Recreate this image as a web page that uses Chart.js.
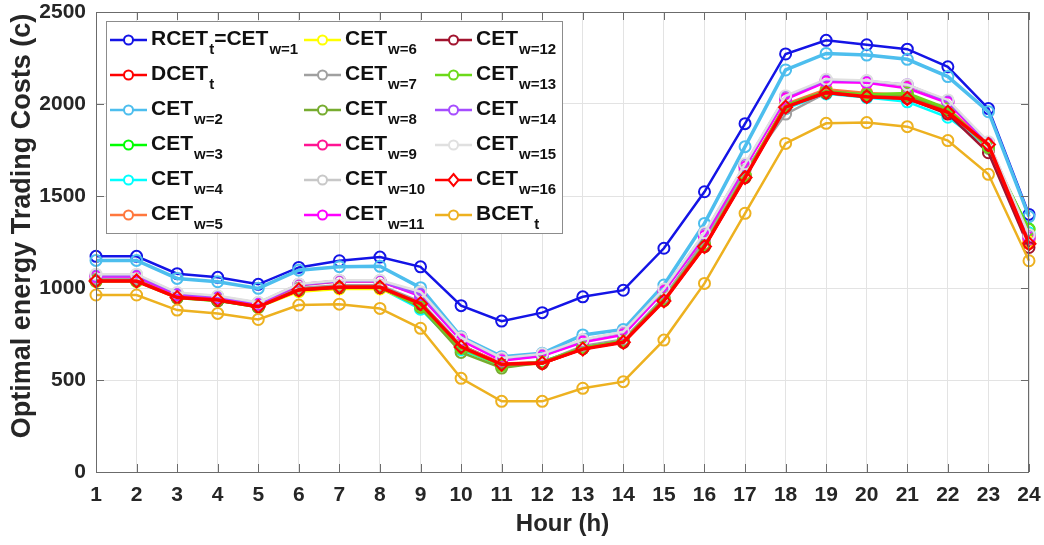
<!DOCTYPE html>
<html>
<head>
<meta charset="utf-8">
<script src="https://cdn.jsdelivr.net/npm/chart.js@4/dist/chart.umd.min.js"></script>
<style>
  body { margin: 0; background: #fff; }
  #chart { display: block; }
</style>
</head>
<body>
<canvas id="chart" width="1044" height="545"></canvas>
<script>
// hours on the x axis
const hours = ["1","2","3","4","5","6","7","8","9","10","11","12","13","14","15","16","17","18","19","20","21","22","23","24"];
const yTicks = [0, 500, 1000, 1500, 2000, 2500];

// legend names, _{...} is a subscript
const seriesNames = [
  "RCET_{t}=CET_{w=1}", "DCET_{t}", "CET_{w=2}", "CET_{w=3}", "CET_{w=4}", "CET_{w=5}",
  "CET_{w=6}", "CET_{w=7}", "CET_{w=8}", "CET_{w=9}", "CET_{w=10}", "CET_{w=11}",
  "CET_{w=12}", "CET_{w=13}", "CET_{w=14}", "CET_{w=15}", "CET_{w=16}", "BCET_{t}"
];

// values
const rcet = [1172,1172,1078,1058,1020,1112,1148,1168,1115,904,820,866,952,988,1216,1523,1893,2272,2346,2322,2298,2202,1975,1400];
const dcet = [1040,1040,950,935,902,993,1007,1007,917,685,587,591,672,708,935,1228,1605,1986,2067,2043,2036,1958,1777,1243];
const cetW2 = [1150,1150,1052,1034,998,1097,1116,1118,1002,735,627,645,745,775,1016,1351,1768,2185,2275,2266,2243,2149,1958,1388];
const cetW3 = [1040,1040,948,932,898,988,1004,1004,895,668,578,600,675,712,940,1232,1610,1990,2062,2050,2055,1970,1760,1320];
const cetW4 = [1036,1036,945,930,895,985,1000,1000,885,665,580,598,678,715,945,1240,1612,1975,2055,2035,2012,1928,1765,1300];
const cetW5 = [1042,1042,952,938,905,995,1008,1008,920,690,590,596,680,715,945,1240,1620,2000,2080,2060,2050,1975,1785,1260];
const cetW6 = [1035,1035,945,930,895,980,995,995,905,675,580,590,670,705,930,1225,1600,1990,2070,2045,2045,1965,1770,1250];
const cetW7 = [1050,1050,958,942,908,1000,1015,1015,925,690,585,595,685,720,950,1260,1640,1945,2060,2050,2040,1960,1760,1270];
const cetW8 = [1040,1040,948,930,895,990,1005,1005,895,650,565,595,675,712,938,1232,1612,1995,2070,2050,2045,1968,1765,1290];
const cetW9 = [1065,1065,965,950,915,1015,1035,1035,960,720,610,632,710,750,985,1285,1660,2030,2125,2120,2095,2010,1790,1275];
const cetW10 = [1072,1072,972,955,920,1020,1040,1040,975,725,612,635,715,755,990,1290,1665,2040,2128,2118,2100,2018,1785,1280];
const cetW11 = [1062,1062,962,948,912,1020,1040,1038,955,715,605,630,705,745,980,1280,1655,2025,2120,2115,2085,2005,1785,1270];
const cetW12 = [1038,1038,948,932,898,988,1002,1002,910,680,585,590,670,705,932,1225,1600,1985,2060,2040,2030,1945,1735,1220];
const cetW13 = [1040,1040,950,935,900,992,1006,1006,900,672,580,598,676,712,940,1235,1612,1990,2065,2052,2060,1975,1765,1318];
const cetW14 = [1068,1068,968,952,918,1018,1038,1038,965,728,618,640,718,760,992,1295,1670,2040,2130,2125,2105,2015,1790,1285];
const cetW15 = [1075,1075,975,958,922,1022,1042,1042,980,730,620,642,720,762,995,1300,1675,2045,2135,2128,2105,2022,1795,1290];
const cetW16 = [1038,1038,948,935,898,990,1005,1005,915,680,585,592,668,705,930,1225,1600,1983,2063,2040,2030,1955,1780,1240];
const bcet = [962,962,880,862,829,907,912,889,781,509,384,384,455,491,717,1025,1406,1786,1895,1899,1877,1801,1618,1148];

const allSeries = [rcet, dcet, cetW2, cetW3, cetW4, cetW5, cetW6, cetW7, cetW8, cetW9,
  cetW10, cetW11, cetW12, cetW13, cetW14, cetW15, cetW16, bcet];

const colors = ["#1414E6", "#FF0000", "#4DBEEE", "#00FF00", "#00FFFF", "#FF773D",
  "#FFFF00", "#A0A0A0", "#77AC30", "#FF1493", "#C8C8C8", "#FF00FF",
  "#A2142F", "#6CD91A", "#A64DFF", "#E0E0E0", "#FF0000", "#EDB120"];
const lineWidths = [2.5, 3.5, 3.5, 2.5, 2.5, 2.5, 2.5, 2.5, 2.5, 2.5, 2.5, 2.5, 2.5, 2.5, 2.5, 2.5, 3.5, 2.5];

const FONT = "'Liberation Sans', Arial, sans-serif";
const textColor = "#262626";
const axisColor = "#6b6b6b";

const datasets = allSeries.map((data, i) => ({
  label: seriesNames[i].replace(/_\{([^}]*)\}/g, "$1"),
  data: data,
  borderColor: colors[i],
  borderWidth: lineWidths[i],
  pointBorderColor: colors[i],
  pointBackgroundColor: "rgba(0,0,0,0)",
  pointBorderWidth: 2,
  pointRadius: i === 16 ? 6.5 : 5.5,
  pointStyle: i === 16 ? "rectRot" : "circle",
  tension: 0,
  order: allSeries.length - i,
}));

// box around the axes with inward tick marks, and the two axis titles
const frame = {
  id: "frame",
  afterDatasetsDraw(chart) {
    const c = chart.ctx;
    const a = chart.chartArea;
    const xs = chart.scales.x;
    const ys = chart.scales.y;
    c.save();
    c.strokeStyle = axisColor;
    c.lineWidth = 1;
    c.strokeRect(a.left + 0.5, a.top + 0.5, a.right - a.left - 1, a.bottom - a.top);
    c.beginPath();
    hours.forEach((h, i) => {
      const x = Math.round(xs.getPixelForValue(i)) + 0.5;
      c.moveTo(x, a.bottom); c.lineTo(x, a.bottom - 8);
      c.moveTo(x, a.top); c.lineTo(x, a.top + 8);
    });
    yTicks.forEach((v) => {
      const y = Math.round(ys.getPixelForValue(v)) + 0.5;
      c.moveTo(a.left, y); c.lineTo(a.left + 8, y);
      c.moveTo(a.right, y); c.lineTo(a.right - 8, y);
    });
    c.stroke();

    c.fillStyle = textColor;
    c.textAlign = "center";
    c.textBaseline = "middle";
    c.font = "bold 24px " + FONT;
    c.fillText("Hour (h)", (a.left + a.right) / 2, 524);
    c.translate(23, 226);
    c.rotate(-Math.PI / 2);
    c.font = "bold 27px " + FONT;
    c.fillText("Optimal energy Trading Costs (c)", 0, 0);
    c.restore();
  },
};

// legend with subscripts, three columns of six
const boxLegend = {
  id: "boxLegend",
  afterDraw(chart) {
    const c = chart.ctx;
    const colX = [110, 304, 435];
    c.save();
    c.fillStyle = "#fff";
    c.fillRect(106, 21, 456, 212);
    c.strokeStyle = "#8c8c8c";
    c.lineWidth = 1;
    c.strokeRect(106.5, 21.5, 456, 212);
    chart.data.datasets.forEach((ds, i) => {
      const x0 = colX[Math.floor(i / 6)];
      const y = 40 + (i % 6) * 35;
      c.strokeStyle = colors[i];
      c.lineWidth = 2.5;
      c.beginPath();
      c.moveTo(x0, y); c.lineTo(x0 + 37, y);
      c.stroke();
      const mx = x0 + 18.5;
      c.lineWidth = 2;
      c.beginPath();
      if (i === 16) {
        c.moveTo(mx, y - 6); c.lineTo(mx + 5, y); c.lineTo(mx, y + 6); c.lineTo(mx - 5, y); c.closePath();
      } else {
        c.arc(mx, y, 4.5, 0, Math.PI * 2);
      }
      c.fillStyle = "#fff";
      c.fill();
      c.stroke();

      // text parts, odd parts are subscripts
      const parts = seriesNames[i].split(/_\{([^}]*)\}/);
      let tx = x0 + 41;
      c.fillStyle = "#111";
      c.textAlign = "left";
      c.textBaseline = "alphabetic";
      parts.forEach((p, k) => {
        if (!p) return;
        if (k % 2 === 1) {
          c.font = "bold 15px " + FONT;
          c.fillText(p, tx + 1, y + 14);
          tx += c.measureText(p).width + 1;
        } else {
          c.font = "bold 21px " + FONT;
          c.fillText(p, tx, y + 5);
          tx += c.measureText(p).width;
        }
      });
    });
    c.restore();
  },
};

const ctx = document.getElementById("chart");
const myChart = new Chart(ctx, {
  type: "line",
  data: { labels: hours, datasets: datasets },
  options: {
    responsive: false,
    animation: false,
    devicePixelRatio: 1,
    layout: { padding: 0 },
    plugins: { legend: { display: false }, tooltip: { enabled: false } },
    scales: {
      x: {
        type: "category",
        grid: { color: "#e3e3e3", drawTicks: false },
        border: { display: false },
        ticks: {
          color: textColor,
          font: { family: FONT, size: 21, weight: "bold" },
          padding: 11,
          maxRotation: 0,
          autoSkip: false,
        },
        afterFit: (s) => {
          s.height = 73;
          s.paddingLeft = 0;
          s.paddingRight = 15;
        },
      },
      y: {
        min: 0,
        max: 2500,
        grid: { color: "#e3e3e3", drawTicks: false },
        border: { display: false },
        ticks: {
          stepSize: 500,
          color: textColor,
          font: { family: FONT, size: 21, weight: "bold" },
          padding: 10,
          callback: (v) => String(v),
        },
        afterFit: (s) => {
          s.width = 96;
          s.paddingTop = 12;
          s.paddingBottom = 0;
        },
      },
    },
  },
  plugins: [frame, boxLegend],
});
</script>
</body>
</html>
